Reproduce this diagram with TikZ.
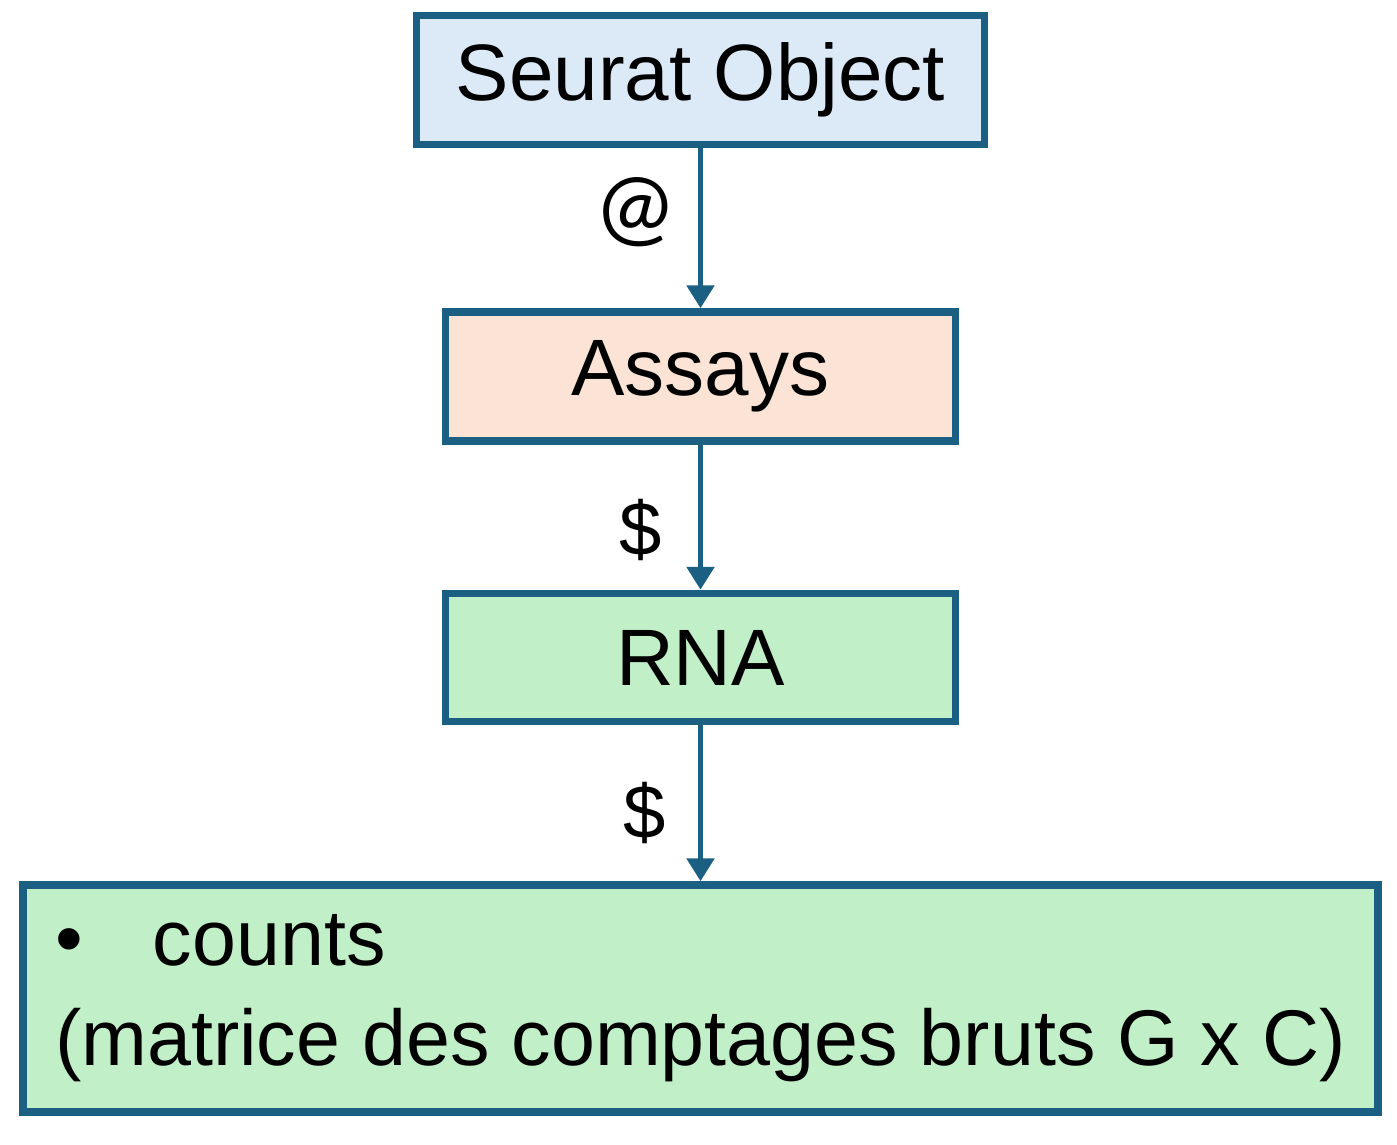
\documentclass[tikz,border=0pt]{standalone}
\usepackage{fontspec}
\setmainfont{Liberation Sans}
\newfontfamily\atfont{Carlito}
\usepackage{xcolor}
\usepackage{tikz}
\usetikzlibrary{arrows.meta,positioning}
\definecolor{edgeblue}{HTML}{1B6082}
\definecolor{objblue}{HTML}{DCEAF7}
\definecolor{assaypeach}{HTML}{FBE3D6}
\definecolor{rnagreen}{HTML}{C1F0C8}

\begin{document}
\begin{tikzpicture}[
  font=\fontsize{80}{100}\selectfont,
  box/.style={draw=edgeblue, line width=7.5pt, align=center, inner sep=0pt},
  arr/.style={-{Triangle[width=27pt,length=23pt]}, draw=edgeblue, line width=5.5pt},
  lbl/.style={left, inner sep=0pt, font=\fontsize{76}{80}\selectfont}
]
\useasboundingbox (0pt,0pt) rectangle (1397pt,-1145pt);
\node[box, fill=objblue, minimum width=568pt, minimum height=129pt] (seurat) at (700.5pt,-80pt) {Seurat Object};
\node[box, fill=assaypeach, minimum width=510pt, minimum height=129pt, below=160pt of seurat] (assays) {Assays};
\node[box, fill=rnagreen, minimum width=510pt, minimum height=128pt, below=145pt of assays] (rna) {RNA};
\node[box, fill=rnagreen, minimum width=1355pt, minimum height=227pt, below=156pt of rna,
  align=left, font=\fontsize{79}{100}\selectfont] (countsbox) {\textbullet\hspace{70pt}counts\\(matrice des comptages bruts G x C)};

\draw[arr] (seurat) -- node[lbl, pos=0.4, xshift=-21pt, font=\fontsize{92}{92}\atfont]{@} (assays);
\draw[arr] (assays) -- node[lbl, pos=0.59, xshift=-36pt]{\$} (rna);
\draw[arr] (rna) -- node[lbl, pos=0.56, xshift=-32pt]{\$} (countsbox);
\end{tikzpicture}
\end{document}
